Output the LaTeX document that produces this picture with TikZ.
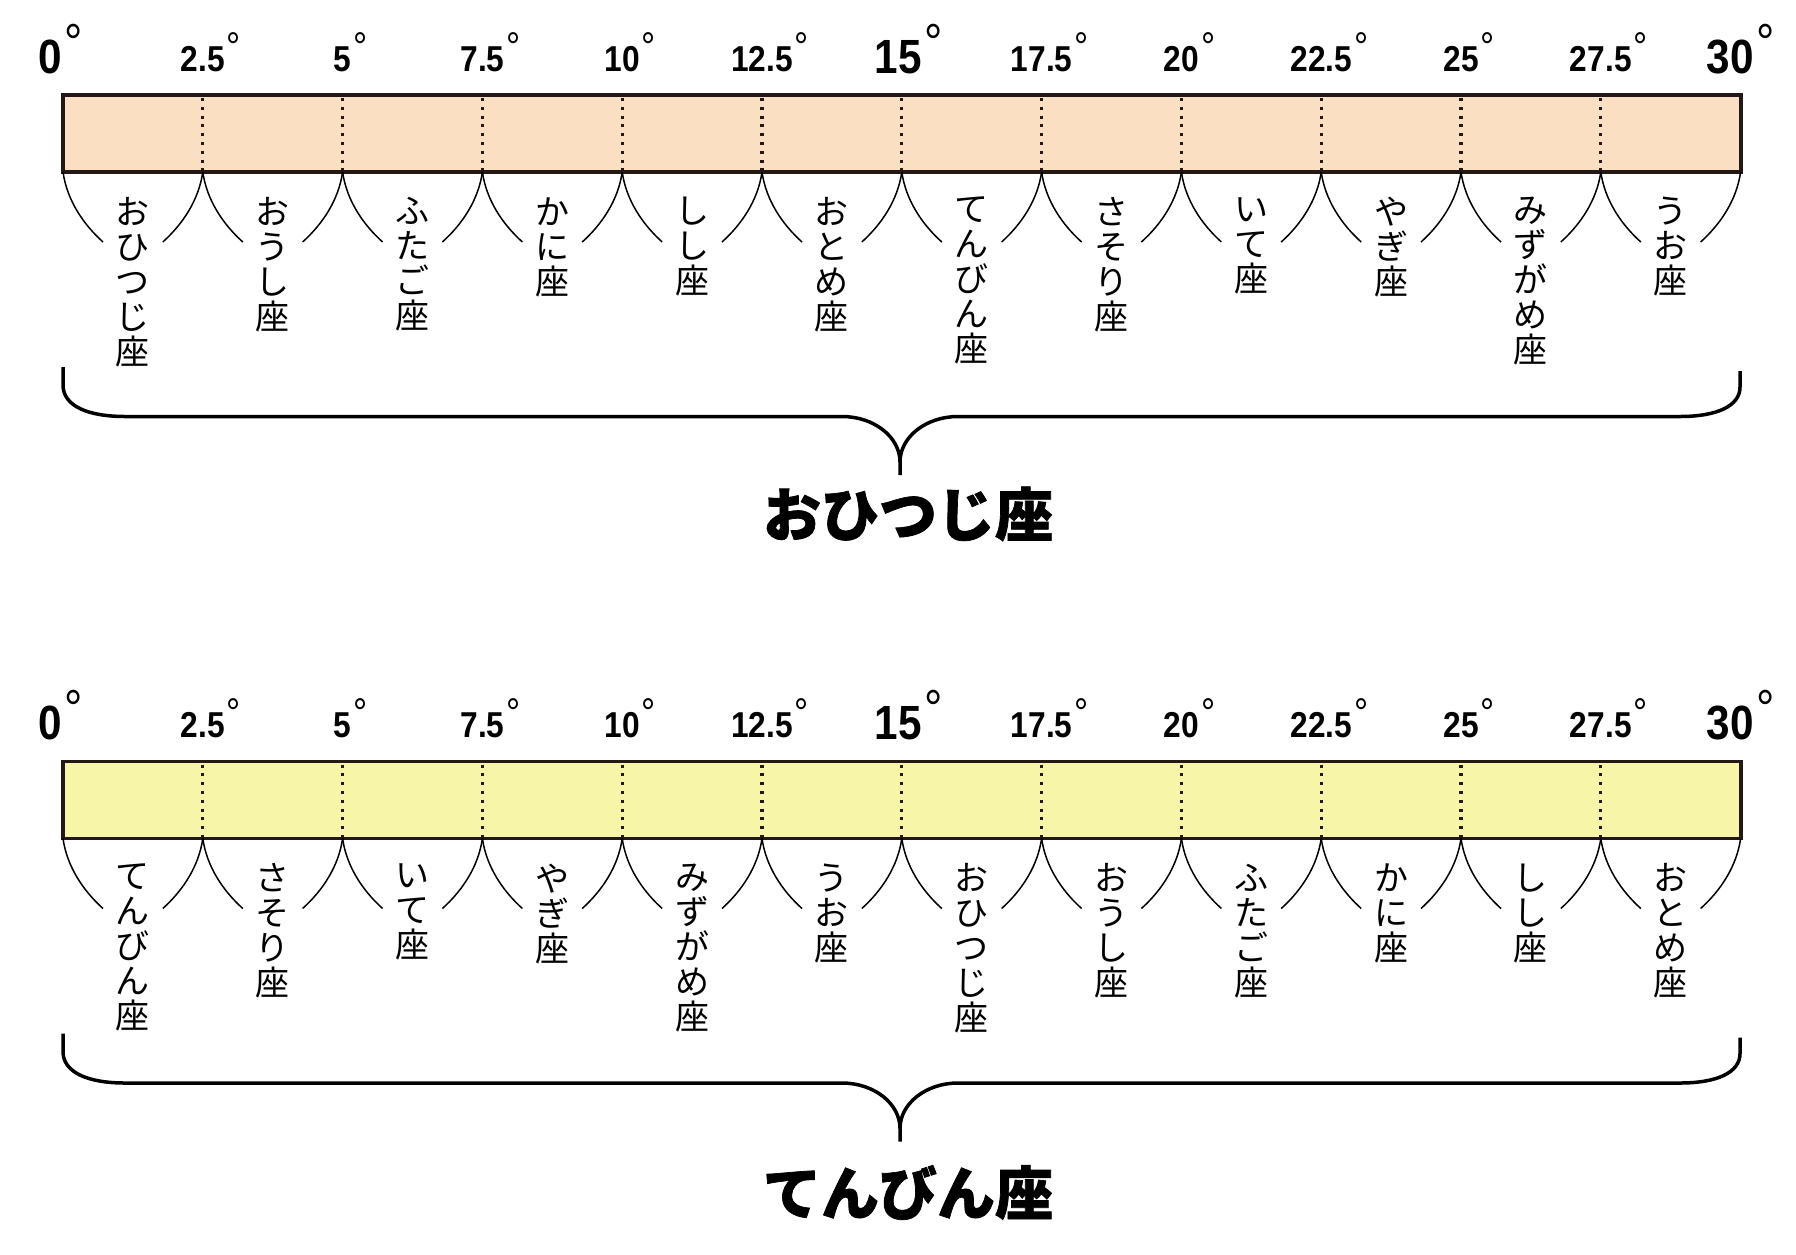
\documentclass[tikz,border=0pt]{standalone}
\usepackage{fontspec}
\setmainfont{Liberation Sans}
\newfontfamily\numfont[FakeStretch=0.88]{Liberation Sans}
\newfontfamily\jpfont[BoldFeatures={FakeBold=1.2}]{Noto Sans CJK JP}
\usepackage{tikz}

\definecolor{barline}{HTML}{231815}
\definecolor{ariesfill}{HTML}{FADFC3}
\definecolor{librafill}{HTML}{F7F6A8}

\tikzset{
  barframe/.style={draw=barline, line width=3.6pt},
  tickline/.style={barline, line width=3.2pt, dash pattern=on 3pt off 5.8pt},
  arcline/.style={black, line width=1.5pt},
  braceline/.style={black, line width=3.5pt},
  degsmall/.style={anchor=base, inner sep=0pt, font=\numfont\bfseries\fontsize{36}{36}\selectfont},
  degbig/.style={anchor=base, inner sep=0pt, font=\numfont\bfseries\fontsize{48}{48}\selectfont},
  sign/.style={anchor=north, align=center, inner sep=0pt, font=\jpfont\fontsize{34}{35}\selectfont},
  bigtitle/.style={inner sep=0pt, font=\jpfont\bfseries\fontsize{58}{58}\selectfont}
}

\newcommand{\smalldeg}[1]{#1\rlap{\kern2pt\raisebox{11pt}{\fontsize{40}{40}\selectfont\mdseries °}}}
\newcommand{\bigdeg}[1]{#1\rlap{\kern3pt\raisebox{13pt}{\fontsize{52}{52}\selectfont\mdseries °}}}

% #1 shift, #2 fill, #3 prefix, #4 signs, #5 title, #6 title y
\newcommand{\zodiacstrip}[6]{%
  \begin{scope}[yshift=#1]
    \fill[#2] (63,95) rectangle (1741,172);
    \foreach \k in {1,...,11}
      \draw[tickline] ({63+139.8*\k},98) -- ({63+139.8*\k},170);
    \draw[barframe] (63,95) rectangle (1741,172);

    \foreach \k in {0,...,12}{
      \pgfmathsetmacro\tx{63+139.8*\k}
      \ifnum\k>0 \draw[arcline] (\tx,172) .. controls (\tx-4,200) and (\tx-20,224) .. (\tx-40,242); \fi
      \ifnum\k<12 \draw[arcline] (\tx,172) .. controls (\tx+4,200) and (\tx+20,224) .. (\tx+40,242); \fi
    }

    \foreach \v/\k in {2.5/1, 5/2, 7.5/3, 10/4, 12.5/5, 17.5/7, 20/8, 22.5/9, 25/10, 27.5/11}
      \node[degsmall] (#3-d\k) at ({63+139.8*\k},71) {\smalldeg{\v}};
    \node[degbig] (#3-d0) at (50,73) {\bigdeg{0}};
    \node[degbig] (#3-d6) at (898,73) {\bigdeg{15}};
    \node[degbig] (#3-d12) at (1730,73) {\bigdeg{30}};

    \foreach \name [count=\i from 0] in {#4}
      \node[sign] (#3-s\i) at ({63+139.8*(\i+0.5)},197) {\name};

    \draw[braceline] (63,367) -- (63,385) .. controls (63,406) and (88,416.5) .. (125,416.5)
      -- (842,416.5) .. controls (874,416.5) and (900,437) .. (900,462) -- (900,475);
    \draw[braceline] (900,462) .. controls (900,437) and (926,416.5) .. (958,416.5)
      -- (1680,416.5) .. controls (1717,416.5) and (1740,406) .. (1740,387) -- (1740,371);

    \node[bigtitle] (#3-title) at (908,#6) {#5};
  \end{scope}}

\begin{document}
\begin{tikzpicture}[x=1pt, y=-1pt]
  \useasboundingbox (0,0) rectangle (1796,1254);
  \fill[white] (0,0) rectangle (1796,1254);

  \zodiacstrip{0pt}{ariesfill}{aries}
    {{お\\ひ\\つ\\じ\\座}, {お\\う\\し\\座}, {ふ\\た\\ご\\座}, {か\\に\\座},
     {し\\し\\座}, {お\\と\\め\\座}, {て\\ん\\び\\ん\\座}, {さ\\そ\\り\\座},
     {い\\て\\座}, {や\\ぎ\\座}, {み\\ず\\が\\め\\座}, {う\\お\\座}}
    {おひつじ座}{514}

  \zodiacstrip{-666.5pt}{librafill}{libra}
    {{て\\ん\\び\\ん\\座}, {さ\\そ\\り\\座}, {い\\て\\座}, {や\\ぎ\\座},
     {み\\ず\\が\\め\\座}, {う\\お\\座}, {お\\ひ\\つ\\じ\\座}, {お\\う\\し\\座},
     {ふ\\た\\ご\\座}, {か\\に\\座}, {し\\し\\座}, {お\\と\\め\\座}}
    {てんびん座}{526}
\end{tikzpicture}
\end{document}
